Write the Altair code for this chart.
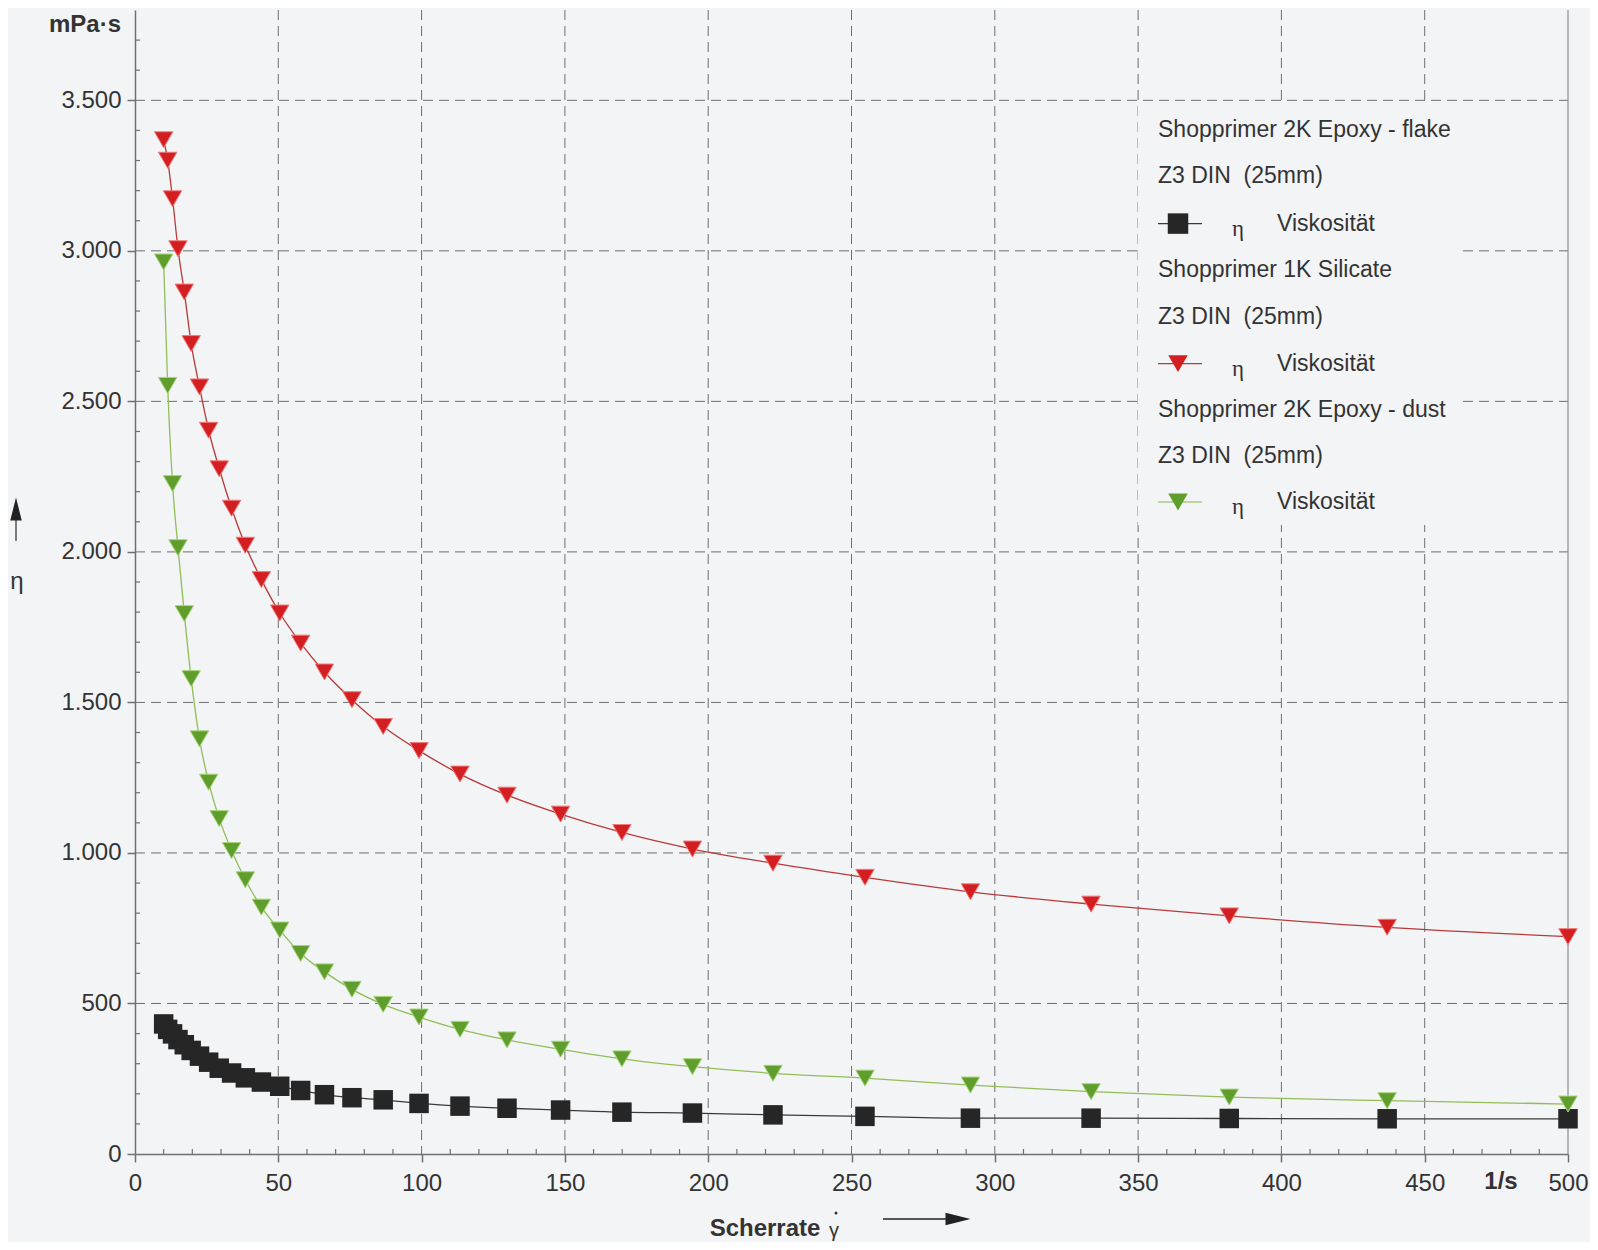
import altair as alt
import pandas as pd

# ---------------- data ----------------
shear_rate = [10.0, 11.4, 13.1, 15.0, 17.2, 19.6, 22.5, 25.7, 29.4, 33.7,
              38.5, 44.1, 50.5, 57.8, 66.1, 75.7, 86.6, 99.1, 113.4, 129.8,
              148.5, 169.9, 194.5, 222.6, 254.7, 291.5, 333.6, 381.8, 436.9, 500.0]
eta_flake = [432, 414, 399, 380, 363, 344, 325, 305, 285, 269,
             253, 239, 225, 211, 197, 187, 180, 168, 159, 152,
             146, 139, 136, 130, 125, 119, 119, 118, 117, 117]
eta_silicate = [3369, 3301, 3173, 3007, 2863, 2692, 2548, 2404, 2276, 2145,
                2022, 1908, 1797, 1697, 1601, 1509, 1420, 1340, 1262, 1192,
                1129, 1068, 1013, 966, 919, 871, 830, 791, 753, 722]
eta_dust = [2963, 2553, 2227, 2014, 1795, 1579, 1379, 1235, 1114, 1008,
            911, 820, 744, 666, 605, 547, 497, 455, 414, 379,
            348, 316, 290, 268, 252, 229, 207, 189, 177, 166]

x_major_ticks = [0, 50, 100, 150, 200, 250, 300, 350, 400, 450, 500]
y_major_ticks = [0, 500, 1000, 1500, 2000, 2500, 3000, 3500]
x_grid = [50, 100, 150, 200, 250, 300, 350, 400, 450]
y_grid = [500, 1000, 1500, 2000, 2500, 3000, 3500]
x_minor = [v for v in range(10, 500, 10) if v % 50 != 0]
y_minor = [v for v in range(100, 3800, 100) if v % 500 != 0]

legend_lines = [
    "Shopprimer 2K Epoxy - flake", "Z3 DIN\u00a0 (25mm)",
    "Shopprimer 1K Silicate", "Z3 DIN\u00a0 (25mm)",
    "Shopprimer 2K Epoxy - dust", "Z3 DIN\u00a0 (25mm)",
]

# ---------------- styling ----------------
W, H = 1433, 1144
BG = "#f3f4f6"
FONT = "Liberation Sans"
TXT = "#333333"
AX = "#707070"
GRID = "#6e6e6e"

xs = alt.Scale(domain=[0, 500], nice=False, zero=False)
ys = alt.Scale(domain=[0, 3800], nice=False, zero=False)

x_axis = alt.Axis(values=x_major_ticks, grid=False, title=None, tickSize=8,
                  tickColor=AX, tickWidth=1.5, domainColor=AX, domainWidth=1.5,
                  labelFont=FONT, labelFontSize=24, labelColor=TXT,
                  labelPadding=9, labelFlush=False, format="d")
y_axis = alt.Axis(values=y_major_ticks, grid=False, title=None, tickSize=8,
                  tickColor=AX, tickWidth=1.5, domainColor=AX, domainWidth=1.5,
                  labelFont=FONT, labelFontSize=24, labelColor=TXT,
                  labelPadding=6, labelFlush=False,
                  labelExpr="replace(format(datum.value, ','), ',', '.')")

XE = alt.X("x:Q", scale=xs, axis=x_axis)
YE = alt.Y("eta:Q", scale=ys, axis=y_axis)


def series_df(vals):
    return pd.DataFrame({"x": shear_rate, "eta": vals})


df_flake = series_df(eta_flake)
df_sil = series_df(eta_silicate)
df_dust = series_df(eta_dust)

layers = []

series = [
    (df_flake, "#3a3a3a", "#262626", "square", 380, None),
    (df_dust, "#93bd58", "#5f9e2c", "triangle-down", 340, "#a6d478"),
    (df_sil, "#b83a3a", "#d41f22", "triangle-down", 340, "#f07a7a"),
]

# grid lines (dashed)
layers.append(
    alt.Chart(pd.DataFrame({"x": x_grid})).mark_rule(
        color=GRID, strokeDash=[10, 6], strokeWidth=1
    ).encode(x=XE, y=alt.value(0), y2=alt.value(H))
)
layers.append(
    alt.Chart(pd.DataFrame({"eta": y_grid})).mark_rule(
        color=GRID, strokeDash=[10, 6], strokeWidth=1
    ).encode(y=YE, x=alt.value(0), x2=alt.value(W))
)
# right frame line at 500
layers.append(
    alt.Chart(pd.DataFrame({"x": [500]})).mark_rule(color="#8c8c8c", strokeWidth=1.2)
    .encode(x=XE, y=alt.value(0), y2=alt.value(H))
)
# minor ticks (inside)
layers.append(
    alt.Chart(pd.DataFrame({"x": x_minor})).mark_rule(color=AX, strokeWidth=1.2)
    .encode(x=XE, y=alt.value(H - 5), y2=alt.value(H))
)
layers.append(
    alt.Chart(pd.DataFrame({"eta": y_minor})).mark_rule(color=AX, strokeWidth=1.2)
    .encode(y=YE, x=alt.value(0), x2=alt.value(5))
)

# legend background covering the grid
layers.append(
    alt.Chart(pd.DataFrame({"a": [0]})).mark_rect(color=BG, opacity=1)
    .encode(x=alt.value(1003), x2=alt.value(1327), y=alt.value(93), y2=alt.value(515))
)

# legend text
leg_x = 1023
row_y = [119.6, 166.3, 213.6, 260.3, 307.0, 353.6, 399.6, 446.3, 492.0]
text_rows = [row_y[0], row_y[1], row_y[3], row_y[4], row_y[6], row_y[7]]
for t, yy in zip(legend_lines, text_rows):
    layers.append(
        alt.Chart(pd.DataFrame({"a": [0]})).mark_text(
            text=t, font=FONT, fontSize=23, color=TXT, align="left", baseline="middle"
        ).encode(x=alt.value(leg_x), y=alt.value(yy))
    )

sym_rows = [row_y[2], row_y[5], row_y[8]]
sym_line_colors = ["#3a3a3a", "#b83a3a", "#86b24e"]
sym_fill = ["#262626", "#d41f22", "#5f9e2c"]
sym_shape = ["square", "triangle-down", "triangle-down"]
sym_size = [420, 380, 380]
for yy, lc, fc, sh, sz in zip(sym_rows, sym_line_colors, sym_fill, sym_shape, sym_size):
    layers.append(
        alt.Chart(pd.DataFrame({"a": [0]})).mark_rule(color=lc, strokeWidth=1.2)
        .encode(x=alt.value(1023), x2=alt.value(1067), y=alt.value(yy))
    )
    layers.append(
        alt.Chart(pd.DataFrame({"a": [0]})).mark_point(
            shape=sh, filled=True, size=sz, color=fc, opacity=1
        ).encode(x=alt.value(1043), y=alt.value(yy))
    )
    layers.append(
        alt.Chart(pd.DataFrame({"a": [0]})).mark_text(
            text="η", font="Liberation Serif", fontSize=23, color=TXT,
            align="center", baseline="middle"
        ).encode(x=alt.value(1103), y=alt.value(yy + 5))
    )
    layers.append(
        alt.Chart(pd.DataFrame({"a": [0]})).mark_text(
            text="Viskosität", font=FONT, fontSize=23, color=TXT,
            align="left", baseline="middle"
        ).encode(x=alt.value(1142), y=alt.value(yy))
    )

for df, lc, fc, sh, sz, stroke in series:
    layers.append(
        alt.Chart(df).mark_line(color=lc, strokeWidth=1.3, interpolate="monotone")
        .encode(x=XE, y=YE)
    )
    pkw = dict(shape=sh, filled=True, size=sz, fill=fc, opacity=1)
    if stroke:
        pkw.update(stroke=stroke, strokeWidth=1)
    else:
        pkw.update(strokeWidth=0)
    layers.append(alt.Chart(df).mark_point(**pkw).encode(x=XE, y=YE))


# annotations (axis captions)
def txt(t, x, y, size=24, bold=True, align="center", font=FONT):
    return alt.Chart(pd.DataFrame({"a": [0]})).mark_text(
        text=t, font=font, fontSize=size, fontWeight="bold" if bold else "normal",
        color=TXT, align=align, baseline="middle"
    ).encode(x=alt.value(x), y=alt.value(y))


layers.append(txt("mPa·s", -50, 15))
layers.append(txt("η", -118, 572, size=24, bold=False))
layers.append(txt("Scherrate", 630, 1219))
layers.append(txt("γ", 699, 1221, size=20, bold=False))
layers.append(txt("1/s", 1366, 1172))
# dot over gamma
layers.append(
    alt.Chart(pd.DataFrame({"a": [0]})).mark_point(
        shape="circle", filled=True, size=9, color=TXT, opacity=1
    ).encode(x=alt.value(701), y=alt.value(1203))
)
# up arrow (eta)
layers.append(
    alt.Chart(pd.DataFrame({"a": [0]})).mark_rule(color="#555555", strokeWidth=1.5)
    .encode(x=alt.value(-119), y=alt.value(508), y2=alt.value(531))
)
layers.append(
    alt.Chart(pd.DataFrame({"a": [0]})).mark_point(
        shape="M0,-1L0.5,1L-0.5,1Z", filled=True, size=529, color="#222222", opacity=1
    ).encode(x=alt.value(-119), y=alt.value(499))
)
# right arrow (shear rate)
layers.append(
    alt.Chart(pd.DataFrame({"a": [0]})).mark_rule(color="#222222", strokeWidth=1.5)
    .encode(x=alt.value(748), x2=alt.value(815), y=alt.value(1209))
)
layers.append(
    alt.Chart(pd.DataFrame({"a": [0]})).mark_point(
        shape="M1,0L-1,-0.5L-1,0.5Z", filled=True, size=625, color="#222222", opacity=1
    ).encode(x=alt.value(823), y=alt.value(1209))
)

chart = alt.layer(*layers).properties(
    width=W, height=H,
    background=BG,
    autosize=alt.AutoSizeParams(type="none"),
    padding={"left": 127, "top": 2, "right": 22, "bottom": 88},
).configure_view(stroke=None, fill=BG)

chart.save("out.html", embed_options={"renderer": "svg", "actions": False})
